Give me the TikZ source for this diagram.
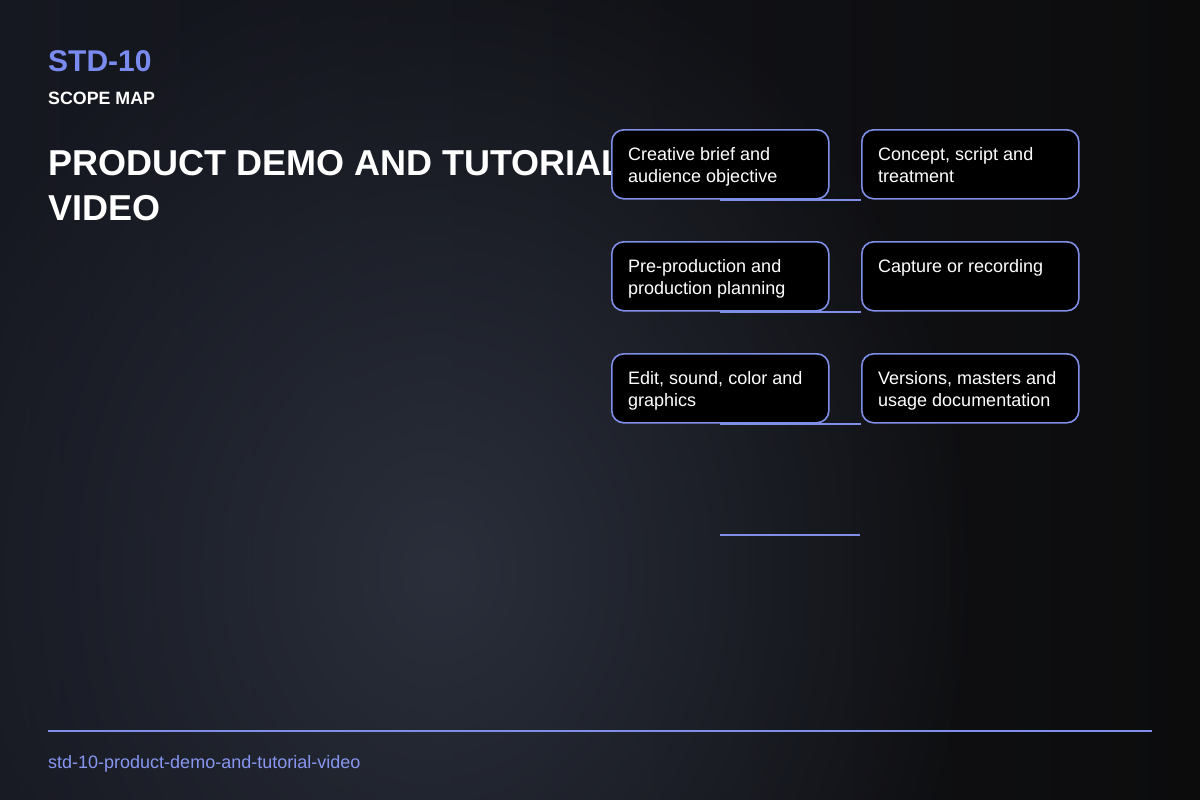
\documentclass[tikz,border=0pt]{standalone}
\usepackage{fontspec}
\setmainfont{Liberation Sans}
\usetikzlibrary{positioning,fadings}
\definecolor{bgnavy}{HTML}{161821}
\definecolor{bgdark}{HTML}{0C0C0D}
\definecolor{glowgray}{HTML}{2A2F3B}
\definecolor{accent}{HTML}{7A8BF0}
\definecolor{edgeblue}{HTML}{7F8FE8}
\tikzfading[name=softglow, inner color=transparent!0, outer color=transparent!100]

\begin{document}
\begin{tikzpicture}[
	x=1pt, y=-1pt,
	stagebox/.style={ % khung buoc
		draw=edgeblue, line width=1.6pt,
		fill=black, rounded corners=12pt,
		minimum width=217pt, minimum height=69pt,
		inner sep=0pt, anchor=north west
	},
	stagetext/.style={ % chu trong khung
		text=white, align=left, inner sep=0pt,
		anchor=north west,
		font=\fontsize{18}{22}\selectfont
	},
	link/.style={ % duong noi ngang
		draw=edgeblue, line width=2pt
	},
	headtext/.style={
		inner sep=0pt, anchor=north west, align=left
	}
	]
	
	% ================= NEN =================
	\useasboundingbox (0,0) rectangle (1200,800);
	\shade[left color=bgnavy, right color=bgdark] (0,0) rectangle (1200,800);
	\fill[glowgray, path fading=softglow] (440,570) ellipse [x radius=540, y radius=640];
	
	% ================= TIEU DE =================
	\node[headtext, text=accent, font=\bfseries\fontsize{30}{34}\selectfont] (code) at (48,50) {STD-10};
	\node[headtext, text=white, font=\bfseries\fontsize{17.8}{20}\selectfont] (kind) at (48,92) {SCOPE MAP};
	\node[headtext, text=white, font=\bfseries\fontsize{36}{45}\selectfont] (title) at (48,150) {PRODUCT DEMO AND TUTORIAL\\VIDEO};
	
	% ================= CAC BUOC =================
	\foreach \txt [count=\j] in {{Creative brief and\\audience objective}, {Concept, script and\\treatment},
		{Pre-production and\\production planning}, {Capture or recording},
		{Edit, sound, color and\\graphics}, {Versions, masters and\\usage documentation}} {
		\pgfmathtruncatemacro{\col}{mod(\j-1,2)}
		\pgfmathtruncatemacro{\row}{div(\j-1,2)}
		\node[stagebox] (s\j) at (611+250*\col, 129+112*\row) {};
		\node[stagetext] (s\j-txt) at ([shift={(17,18.5)}]s\j.north west) {\txt};
	}
	
	% Duong noi duoi khung trai
	\foreach \r in {1,3,5} {
		\draw[link] ([yshift=-0.5pt]s\r.south) -- ([yshift=-0.5pt]s\r.south -| s2.west);
	}
	\coordinate (tail-a) at (719.5,535);
	\coordinate (tail-b) at (860,535);
	\draw[link] (tail-a) -- (tail-b);
	
	% ================= CHAN TRANG =================
	\coordinate (rule-l) at (48,731);
	\coordinate (rule-r) at (1152,731);
	\draw[link] (rule-l) -- (rule-r);
	\node[headtext, text=accent!90!white, font=\fontsize{18}{20}\selectfont] (slug) at (48,755.5) {std-10-product-demo-and-tutorial-video};
	
\end{tikzpicture}
\end{document}
